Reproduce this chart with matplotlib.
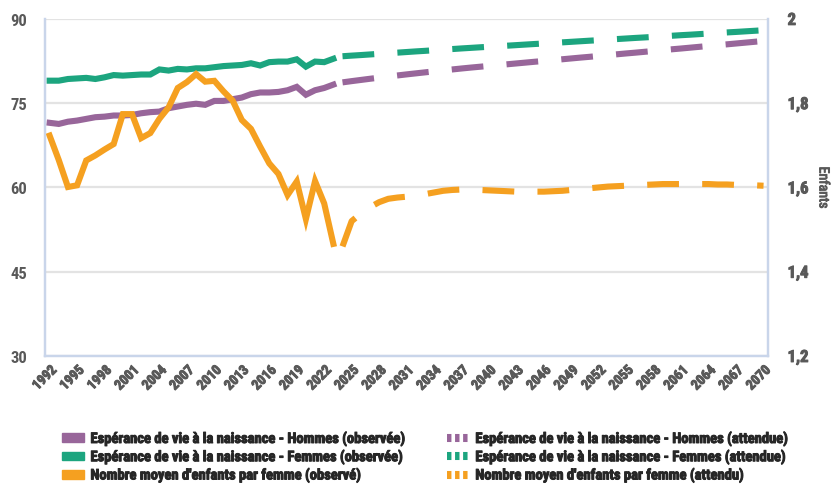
import matplotlib
matplotlib.use("Agg")
import matplotlib.pyplot as plt
import matplotlib.lines as mlines
import matplotlib.patches as mpatches
import matplotlib.patheffects as pe
from matplotlib import font_manager as fm
from matplotlib.text import Text

# police étroite si disponible
police = 'DejaVu Sans'
for nom in ['Roboto Condensed', 'Liberation Sans Narrow', 'Arial Narrow', 'Roboto', 'Liberation Sans']:
    try:
        fm.findfont(fm.FontProperties(family=nom), fallback_to_default=False)
        police = nom
        break
    except Exception:
        pass
plt.rcParams['font.family'] = [police, 'DejaVu Sans']
plt.rcParams['font.weight'] = 'bold'
etroite = police in ('Roboto Condensed', 'Liberation Sans Narrow', 'Arial Narrow')

# années
annees_obs = list(range(1992, 2024))
annees_att = list(range(2024, 2071))
annees_ticks = list(range(1992, 2071, 3))

# espérance de vie (observée)
hommes_obs = [71.5, 71.3, 71.7, 71.9, 72.2, 72.5, 72.6, 72.8, 72.8, 72.9,
              73.2, 73.4, 73.5, 74.1, 74.4, 74.7, 74.9, 74.7, 75.4, 75.4,
              75.7, 76.0, 76.6, 76.9, 76.9, 77.0, 77.3, 77.9, 76.5, 77.3,
              77.7, 78.3]
femmes_obs = [79.0, 79.0, 79.3, 79.4, 79.5, 79.3, 79.6, 80.0, 79.9, 80.0,
              80.1, 80.1, 81.0, 80.8, 81.1, 81.0, 81.2, 81.2, 81.4, 81.6,
              81.7, 81.8, 82.1, 81.7, 82.3, 82.4, 82.4, 82.8, 81.5, 82.4,
              82.3, 82.9]
# nombre moyen d'enfants par femme (observé)
enfants_obs = [1.723, 1.665, 1.601, 1.605, 1.664, 1.676, 1.690, 1.703, 1.774, 1.774,
               1.717, 1.729, 1.763, 1.790, 1.836, 1.850, 1.869, 1.851, 1.853, 1.828,
               1.806, 1.760, 1.739, 1.697, 1.657, 1.632, 1.582, 1.614, 1.525, 1.615,
               1.562, 1.466]

# projections
hommes_att = [78.70, 78.92, 79.13, 79.34, 79.54, 79.74, 79.93,
              80.12, 80.30, 80.48, 80.66, 80.83, 81.00, 81.17, 81.33, 81.48, 81.63,
              81.77, 81.92, 82.07, 82.22, 82.37, 82.51, 82.66, 82.81, 82.96, 83.11,
              83.25, 83.40, 83.55, 83.70, 83.85, 83.99, 84.14, 84.29, 84.44, 84.59,
              84.73, 84.88, 85.03, 85.18, 85.33, 85.47, 85.62, 85.77, 85.92, 86.07]
femmes_att = [83.35, 83.46, 83.56, 83.67, 83.78, 83.89, 83.99,
              84.10, 84.21, 84.31, 84.42, 84.53, 84.63, 84.74, 84.84, 84.94, 85.04,
              85.13, 85.23, 85.33, 85.43, 85.53, 85.62, 85.72, 85.82, 85.92, 86.02,
              86.12, 86.21, 86.31, 86.41, 86.51, 86.61, 86.70, 86.80, 86.90, 87.00,
              87.10, 87.19, 87.29, 87.39, 87.49, 87.59, 87.68, 87.78, 87.88, 87.98]
enfants_att = [1.460, 1.520, 1.538, 1.553, 1.565, 1.573, 1.576,
               1.578, 1.581, 1.584, 1.588, 1.592, 1.594, 1.595, 1.595, 1.594, 1.593,
               1.592, 1.591, 1.590, 1.590, 1.590, 1.590, 1.591, 1.592, 1.594, 1.596,
               1.598, 1.600, 1.602, 1.603, 1.604, 1.605, 1.606, 1.607, 1.608, 1.608,
               1.608, 1.608, 1.608, 1.608, 1.607, 1.607, 1.606, 1.605, 1.605, 1.604]

violet = '#98669a'
vert = '#1ca57f'
orange = '#f5a020'
gris = '#595959'
bleu_axe = '#c9d5ea'

lw = 4.4
tirets = (0, (5.2, 3.8))

fig = plt.figure(figsize=(8.34, 4.85), dpi=100)
ax = fig.add_axes([0.054, 0.264, 0.867, 0.695])
ax2 = ax.twinx()

ax.plot(annees_obs, hommes_obs, color=violet, lw=lw, solid_joinstyle='miter')
ax.plot(annees_obs, femmes_obs, color=vert, lw=lw, solid_joinstyle='miter')
ax.plot(annees_att, hommes_att, color=violet, lw=lw, linestyle=tirets)
ax.plot(annees_att, femmes_att, color=vert, lw=lw, linestyle=tirets)
ax2.plot(annees_obs, enfants_obs, color=orange, lw=lw, solid_joinstyle='miter')
ax2.plot(annees_att, enfants_att, color=orange, lw=lw, linestyle=tirets)

ax.set_xlim(1991.5, 2070.5)
ax.set_ylim(30, 90)
ax.set_yticks([30, 45, 60, 75, 90])
ax2.set_ylim(1.2, 2.0)
ax2.set_yticks([1.2, 1.4, 1.6, 1.8, 2.0])
ax2.set_yticklabels(['1,2', '1,4', '1,6', '1,8', '2'])
ax.set_xticks(annees_ticks)
ax.set_xticklabels([str(a) for a in annees_ticks], rotation=45, ha='right',
                   rotation_mode='anchor')

ax.yaxis.grid(True, color='#e3e3e3', lw=1.6)
ax.set_axisbelow(True)

taille_y = 12 if etroite else 10.5
taille_x = 10 if etroite else 8.5
for a in (ax, ax2):
    a.spines['top'].set_visible(False)
    for s in ('left', 'right', 'bottom'):
        a.spines[s].set_color(bleu_axe)
        a.spines[s].set_linewidth(1.6)
    a.tick_params(length=0, labelcolor=gris, labelsize=taille_y)
ax.tick_params(axis='y', pad=13)
ax.tick_params(axis='x', pad=5, labelsize=taille_x)
ax2.tick_params(axis='y', pad=14)

ax2.set_ylabel('Enfants', rotation=270, color=gris, fontsize=10 if etroite else 8.5,
               labelpad=16)

# légende personnalisée
h1 = mpatches.Patch(color=violet, label='Espérance de vie à la naissance - Hommes (observée)')
h2 = mpatches.Patch(color=vert, label='Espérance de vie à la naissance - Femmes (observée)')
h3 = mpatches.Patch(color=orange, label="Nombre moyen d'enfants par femme (observé)")
h4 = mlines.Line2D([], [], color=violet, lw=5.8, linestyle=(0, (0.55, 0.45)),
                   label='Espérance de vie à la naissance - Hommes (attendue)')
h5 = mlines.Line2D([], [], color=vert, lw=5.8, linestyle=(0, (0.55, 0.45)),
                   label='Espérance de vie à la naissance - Femmes (attendue)')
h6 = mlines.Line2D([], [], color=orange, lw=5.8, linestyle=(0, (0.55, 0.45)),
                   label="Nombre moyen d'enfants par femme (attendu)")
taille_leg = 10.5 if etroite else 7.8
leg = fig.legend(handles=[h1, h2, h3, h4, h5, h6], ncol=2, loc='center left',
                 bbox_to_anchor=(62 / 834, 1 - 458 / 485), frameon=False,
                 prop={'size': taille_leg, 'weight': 'bold'}, handlelength=1.5,
                 handleheight=0.55, labelspacing=0.22, columnspacing=2.8,
                 handletextpad=0.45, borderpad=0, borderaxespad=0)
for t in leg.get_texts():
    t.set_color('#262626')

# renforcer le gras (police sans graisse grasse)
for t in fig.findobj(Text):
    if t.get_text():
        t.set_path_effects([pe.withStroke(linewidth=0.7, foreground=t.get_color())])

fig.savefig("out.png", dpi=100)
